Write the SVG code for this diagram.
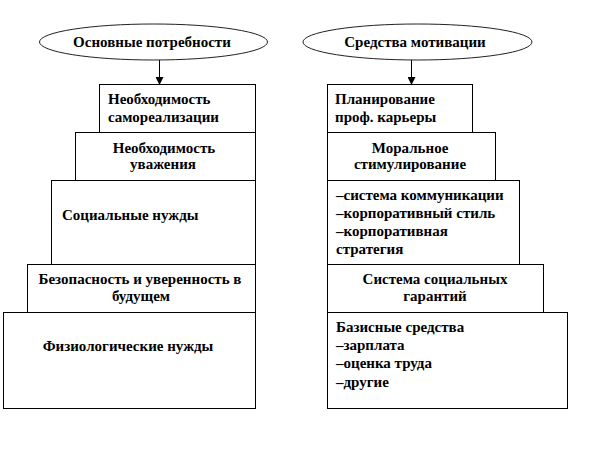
<svg xmlns="http://www.w3.org/2000/svg" width="615" height="456" viewBox="0 0 615 456">
<style>
.box{fill:#fff;stroke:#000;stroke-width:1}
.ell{fill:#fff;stroke:#222;stroke-width:1}
text{font-family:"Liberation Serif","Times New Roman",serif;font-weight:bold;font-size:15px;fill:#000}
.c{text-anchor:middle}
.con{stroke:#000;stroke-width:1;fill:none}
</style>
<defs>
<marker id="ah" markerWidth="8" markerHeight="8" refX="7" refY="4" orient="auto" markerUnits="userSpaceOnUse">
<path d="M0,0 L8,4 L0,8 Z" fill="#000"/>
</marker>
</defs>
<rect width="615" height="456" fill="#fff"/>
<g id="connectors">
<line class="con" x1="159.5" y1="60" x2="159.5" y2="84" marker-end="url(#ah)"/>
<line class="con" x1="411.5" y1="60" x2="411.5" y2="84" marker-end="url(#ah)"/>
</g>
<g id="needs-title">
<ellipse class="ell" cx="153.5" cy="42" rx="114" ry="18"/>
<text class="c" x="152" y="47">Основные потребности</text>
</g>
<g id="need-5">
<rect class="box" x="3.5" y="312.5" width="252" height="96"/>
<text class="c" x="128" y="351">Физиологические нужды</text>
</g>
<g id="need-4">
<rect class="box" x="27.5" y="264.5" width="228" height="48"/>
<text class="c" x="140" y="284">Безопасность и уверенность в</text>
<text class="c" x="141" y="301">будущем</text>
</g>
<g id="need-3">
<rect class="box" x="51.5" y="180.5" width="204" height="84"/>
<text x="62" y="220">Социальные нужды</text>
</g>
<g id="need-2">
<rect class="box" x="75.5" y="132.5" width="180" height="48"/>
<text class="c" x="164" y="153">Необходимость</text>
<text class="c" x="163" y="169">уважения</text>
</g>
<g id="need-1">
<rect class="box" x="99.5" y="84.5" width="156" height="48"/>
<text x="108" y="104">Необходимость</text>
<text x="108" y="122">самореализации</text>
</g>
<g id="means-title">
<ellipse class="ell" cx="417.5" cy="42" rx="114.5" ry="18"/>
<text class="c" x="415" y="47">Средства мотивации</text>
</g>
<g id="means-5">
<rect class="box" x="327.5" y="312.5" width="240" height="96"/>
<text x="336" y="332">Базисные средства</text>
<text x="336" y="350">–зарплата</text>
<text x="336" y="368">–оценка труда</text>
<text x="336" y="387">–другие</text>
</g>
<g id="means-4">
<rect class="box" x="327.5" y="264.5" width="216" height="48"/>
<text class="c" x="435" y="284">Система социальных</text>
<text class="c" x="435" y="301">гарантий</text>
</g>
<g id="means-3">
<rect class="box" x="327.5" y="180.5" width="192" height="84"/>
<text x="336" y="200">–система коммуникации</text>
<text x="336" y="218">–корпоративный стиль</text>
<text x="336" y="236">–корпоративная</text>
<text x="336" y="254">стратегия</text>
</g>
<g id="means-2">
<rect class="box" x="327.5" y="132.5" width="168" height="48"/>
<text class="c" x="410" y="153">Моральное</text>
<text class="c" x="410" y="169">стимулирование</text>
</g>
<g id="means-1">
<rect class="box" x="327.5" y="84.5" width="145" height="48"/>
<text x="335" y="104">Планирование</text>
<text x="335" y="122">проф. карьеры</text>
</g>
</svg>
